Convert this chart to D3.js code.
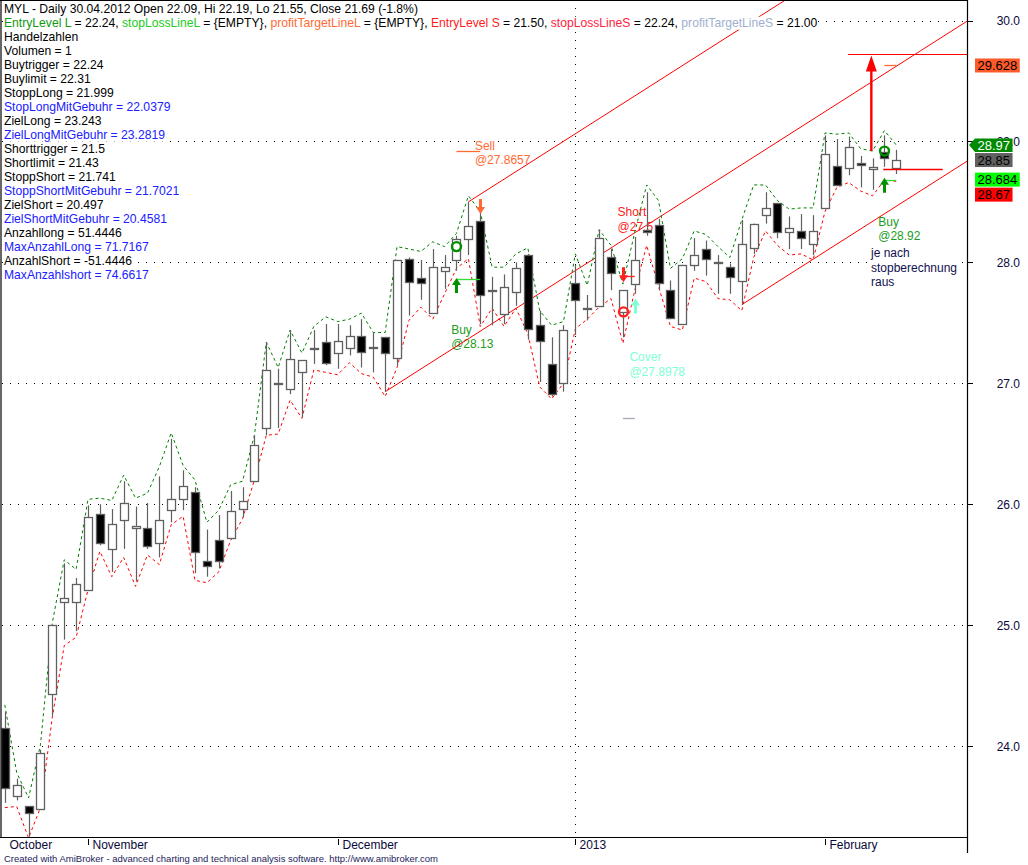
<!DOCTYPE html>
<html>
<head>
<meta charset="utf-8">
<script src="https://cdn.jsdelivr.net/npm/d3@7"></script>
<style>
  body { margin: 0; background: #fff; }
  svg { display: block; font-family: "Liberation Sans", Arial, sans-serif; }
</style>
</head>
<body>
<div id="chart"></div>
<script>
// MYL daily candles, Oct 2012 - Feb 2013

const dates = [
  "2012-10-19","2012-10-22","2012-10-23","2012-10-24","2012-10-25","2012-10-26","2012-10-31",
  "2012-11-01","2012-11-02","2012-11-05","2012-11-06","2012-11-07","2012-11-08","2012-11-09",
  "2012-11-12","2012-11-13","2012-11-14","2012-11-15","2012-11-16","2012-11-19","2012-11-20",
  "2012-11-21","2012-11-23","2012-11-26","2012-11-27","2012-11-28","2012-11-29","2012-11-30",
  "2012-12-03","2012-12-04","2012-12-05","2012-12-06","2012-12-07","2012-12-10","2012-12-11",
  "2012-12-12","2012-12-13","2012-12-14","2012-12-17","2012-12-18","2012-12-19","2012-12-20",
  "2012-12-21","2012-12-24","2012-12-26","2012-12-27","2012-12-28","2012-12-31",
  "2013-01-02","2013-01-03","2013-01-04","2013-01-07","2013-01-08","2013-01-09","2013-01-10",
  "2013-01-11","2013-01-14","2013-01-15","2013-01-16","2013-01-17","2013-01-18","2013-01-22",
  "2013-01-23","2013-01-24","2013-01-25","2013-01-28","2013-01-29","2013-01-30","2013-01-31",
  "2013-02-01","2013-02-04","2013-02-05","2013-02-06","2013-02-07","2013-02-08","2013-02-11"
];

const opens = [
  24.15, 23.59, 23.50, 23.48, 24.43, 25.19, 25.19, 25.29, 25.92, 25.63,
  25.87, 25.80, 25.80, 25.68, 25.95, 26.04, 26.10, 25.53, 25.70, 25.72,
  25.96, 26.19, 26.63, 27.00, 26.95, 27.09, 27.29, 27.34, 27.25, 27.29,
  27.39, 27.30, 27.38, 27.21, 28.03, 27.87, 27.58, 27.93, 28.02, 28.19,
  28.34, 27.77, 27.58, 27.75, 28.06, 27.48, 27.16, 27.00, 27.83, 27.62,
  27.64, 28.04, 27.59, 27.82, 28.27, 28.31, 27.77, 27.49, 27.98, 28.11,
  28.00, 27.96, 27.84, 28.12, 28.39, 28.49, 28.25, 28.26, 28.15, 28.45,
  28.80, 28.78, 28.82, 28.77, 28.91, 28.78
];
const highs = [
  24.28, 23.73, 23.50, 23.97, 25.00, 25.51, 25.39, 25.99, 26.00, 25.96,
  26.19, 25.98, 26.01, 26.23, 26.54, 26.28, 26.14, 25.79, 25.91, 26.11,
  26.14, 26.57, 27.34, 27.12, 27.44, 27.19, 27.44, 27.49, 27.49, 27.48,
  27.53, 27.42, 27.38, 28.02, 28.04, 28.02, 28.11, 28.06, 28.22, 28.50,
  28.42, 27.88, 27.90, 28.00, 28.07, 27.60, 27.38, 27.48, 27.98, 27.73,
  28.27, 28.11, 27.77, 28.21, 28.58, 28.36, 27.85, 27.98, 28.20, 28.18,
  28.06, 27.99, 28.35, 28.32, 28.58, 28.49, 28.38, 28.40, 28.39, 29.05,
  29.02, 29.04, 28.88, 28.86, 29.05, 28.93
];
const lows = [
  23.53, 23.55, 23.25, 23.47, 24.25, 24.88, 24.95, 25.29, 25.66, 25.44,
  25.63, 25.36, 25.63, 25.56, 25.85, 25.95, 25.43, 25.40, 25.47, 25.71,
  25.89, 26.19, 26.57, 26.63, 26.91, 26.72, 27.16, 27.15, 27.12, 27.23,
  27.13, 27.09, 26.93, 27.15, 27.56, 27.69, 27.58, 27.78, 27.93, 28.06,
  27.49, 27.48, 27.49, 27.64, 27.36, 27.01, 26.89, 26.93, 27.40, 27.52,
  27.63, 27.77, 27.38, 27.74, 28.22, 27.77, 27.53, 27.49, 27.93, 27.89,
  27.74, 27.74, 27.65, 28.07, 28.32, 28.20, 28.11, 28.11, 28.06, 28.45,
  28.64, 28.72, 28.62, 28.60, 28.79, 28.73
];
const closes = [
  23.65, 23.68, 23.44, 23.94, 25.00, 25.22, 25.34, 25.89, 25.68, 25.84,
  26.01, 25.82, 25.65, 25.87, 26.04, 26.15, 25.60, 25.49, 25.53, 25.94,
  26.03, 26.49, 27.11, 27.00, 27.20, 27.19, 27.29, 27.17, 27.35, 27.39,
  27.26, 27.30, 27.25, 28.02, 27.84, 27.83, 27.96, 27.96, 28.19, 28.30,
  27.73, 27.77, 27.80, 27.95, 27.45, 27.35, 26.91, 27.44, 27.69, 27.62,
  28.20, 27.91, 27.77, 28.02, 28.25, 27.83, 27.54, 27.98, 28.06, 28.03,
  28.00, 27.88, 28.15, 28.32, 28.45, 28.25, 28.28, 28.20, 28.26, 28.90,
  28.64, 28.95, 28.80, 28.79, 28.86, 28.85
];

// dashed envelope lines (green above, red below)
const upperBand = [
  24.34, 23.78, 23.57, 24.01, 25.02, 25.54, 25.46, 26.04, 26.05, 26.03,
  26.24, 26.05, 26.09, 26.31, 26.59, 26.32, 26.20, 25.85, 25.95, 26.16,
  26.19, 26.57, 27.34, 27.13, 27.44, 27.25, 27.47, 27.55, 27.51, 27.53,
  27.58, 27.42, 27.42, 28.13, 28.11, 28.09, 28.17, 28.13, 28.24, 28.55,
  28.42, 27.96, 27.96, 28.07, 28.12, 27.60, 27.48, 27.51, 28.07, 27.81,
  28.27, 28.14, 27.82, 28.25, 28.64, 28.51, 27.95, 28.03, 28.26, 28.23,
  28.13, 28.04, 28.35, 28.64, 28.64, 28.51, 28.44, 28.45, 28.45, 29.07,
  29.06, 29.07, 28.94, 28.92, 29.09, 28.97
];
const lowerBand = [
  23.49, 23.50, 23.24, 23.49, 24.24, 24.83, 24.90, 25.29, 25.61, 25.40,
  25.56, 25.32, 25.58, 25.50, 25.83, 25.90, 25.37, 25.35, 25.44, 25.70,
  25.88, 26.20, 26.57, 26.58, 26.86, 26.71, 27.11, 27.09, 27.07, 27.17,
  27.08, 27.05, 26.89, 27.13, 27.52, 27.63, 27.53, 27.74, 27.95, 28.03,
  27.47, 27.62, 27.47, 27.62, 27.41, 26.97, 26.87, 27.00, 27.45, 27.53,
  27.63, 27.70, 27.33, 27.77, 28.14, 27.80, 27.47, 27.44, 27.87, 27.84,
  27.70, 27.69, 27.60, 28.04, 28.26, 28.14, 28.06, 28.07, 28.02, 28.42,
  28.62, 28.66, 28.59, 28.55, 28.68, 28.67
];

const priceTicks = [24, 25, 26, 27, 28, 29, 30];

// parallel trend channel: start bar, start price, rise per bar
const channelStartBars = [39, 32, 62];
const channelStartPrices = [28.50, 26.93, 27.65];
const channelSlope = 0.0626;

// trade levels: short horizontal segments
const levelFrom = [38, 38, 52, 52, 74, 74];
const levelTo = [40, 40, 53, 53, 75, 75];
const levelPrices = [27.86, 28.92, 27.89, 26.71, 28.684, 29.628];
const levelColors = ["#33dd33", "#ff6a33", "#ff2020", "#a8aab8", "#33dd33", "#ff6a33"];

// signal shapes
const signalBars = [38, 38, 40, 52, 52, 53, 74, 74];
const signalShapes = ["up", "circle", "down", "down", "circle", "up", "up", "circle"];
const signalPrices = [27.87, 28.13, 28.40, 27.835, 27.59, 27.70, 28.70, 28.92];
const signalColors = ["#009000", "#009000", "#ff6a33", "#ff2020", "#ff2020", "#7fffd4", "#009000", "#009000"];

// trade texts
const noteBars = [39.55, 37.55, 51.55, 52.55, 73.48, 72.87];
const notePrices = [28.93, 27.41, 28.38, 27.18, 28.30, 28.04];
const noteLines = [
  ["Sell", "@27.8657"],
  ["Buy", "@28.13"],
  ["Short", "@27.5"],
  ["Cover", "@27.8978"],
  ["Buy", "@28.92"],
  ["je nach", "stopberechnung", "raus"]
];
const noteColors = ["#ff6a33", "#1c9c1c", "#ff2020", "#7fffd4", "#1c9c1c", "#101050"];

// hand drawn target arrow and lines
const drawArrowBar = 72.9;
const drawArrowFrom = 28.92;
const drawArrowTo = 29.71;
const drawLineFrom = [70.93, 73.9];
const drawLineTo = [null, 78.9];
const drawLinePrices = [29.72, 28.77];

// right side value labels
const valueLabels = [
  { value: upperBand[upperBand.length - 1], fill: "#008a00", text: "#ffffff", pointer: true },
  { value: closes[closes.length - 1], fill: "#606060", text: "#000000" },
  { value: levelPrices[4], fill: "#00ff00", text: "#000000" },
  { value: lowerBand[lowerBand.length - 1], fill: "#ff0000", text: "#000000" },
  { value: levelPrices[5], fill: "#ff5a2a", text: "#000000" }
];

const titleText = "MYL - Daily 30.04.2012 Open 22.09, Hi 22.19, Lo 21.55, Close 21.69 (-1.8%)";
const paramNames = ["EntryLevel L", "stopLossLineL", "profitTargetLineL", "EntryLevel S", "stopLossLineS", "profitTargetLineS"];
const paramValues = ["22.24", "{EMPTY}", "{EMPTY}", "21.50", "22.24", "21.00"];
const paramColors = ["#119911", "#22cc22", "#ff6a33", "#ff1a1a", "#ff2040", "#a0b0d0"];

const tradeNames = ["Volumen", "Buytrigger", "Buylimit", "StoppLong", "StopLongMitGebuhr", "ZielLong",
  "ZielLongMitGebuhr", "Shorttrigger", "Shortlimit", "StoppShort", "StoppShortMitGebuhr", "ZielShort",
  "ZielShortMitGebuhr", "Anzahllong", "MaxAnzahlLong", "AnzahlShort", "MaxAnzahlshort"];
const tradeValues = ["1", "22.24", "22.31", "21.999", "22.0379", "23.243", "23.2819", "21.5", "21.43",
  "21.741", "21.7021", "20.497", "20.4581", "51.4446", "71.7167", "-51.4446", "74.6617"];
const tradeBlue = [false, false, false, false, true, false, true, false, false, false, true, false, true, false, true, false, true];

const footerText = "Created with AmiBroker - advanced charting and technical analysis software. http://www.amibroker.com";

//------------------------------------------------------------------
const width = 1028, height = 865;
const plotRight = 967, plotBottom = 837;

const svg = d3.select("#chart").append("svg")
  .attr("width", width)
  .attr("height", height);

const x = d3.scaleLinear().domain([0, dates.length - 1]).range([4.8, 896.3]);
const y = d3.scaleLinear().domain([24, 30]).range([746, 20.5]);
const lastBar = x.invert(plotRight);

svg.append("clipPath").attr("id", "plot-clip")
  .append("rect").attr("x", 1).attr("y", 0).attr("width", plotRight - 1).attr("height", plotBottom);

const plot = svg.append("g").attr("clip-path", "url(#plot-clip)");

// dotted price grid
plot.selectAll(".grid")
  .data(priceTicks)
  .enter()
  .append("line")
    .attr("x1", 2).attr("x2", plotRight)
    .attr("y1", d => Math.round(y(d)) + 0.5)
    .attr("y2", d => Math.round(y(d)) + 0.5)
    .attr("stroke", "#000")
    .attr("stroke-dasharray", "1,7");

// month ticks from the dates
const parse = d3.timeParse("%Y-%m-%d");
const monthStarts = [];
dates.forEach((d, i) => {
  const dt = parse(d);
  if (i === 0 || dt.getMonth() !== parse(dates[i - 1]).getMonth()) {
    monthStarts.push({ i: i, label: dt.getMonth() === 0 ? d3.timeFormat("%Y")(dt) : d3.timeFormat("%B")(dt), year: dt.getMonth() === 0 });
  }
});

// year separator
monthStarts.filter(m => m.year).forEach(m => {
  plot.append("line")
    .attr("x1", Math.round(x(m.i)) + 0.5).attr("x2", Math.round(x(m.i)) + 0.5)
    .attr("y1", 0).attr("y2", plotBottom)
    .attr("stroke", "#000")
    .attr("stroke-dasharray", "1,7");
});

// trade texts with white background
const notes = plot.append("g");
noteLines.forEach((lines, n) => {
  lines.forEach((t, k) => {
    const tx = notes.append("text")
      .attr("x", x(noteBars[n]))
      .attr("y", y(notePrices[n]) + k * 14.3)
      .attr("font-size", 12)
      .attr("fill", noteColors[n])
      .text(t);
    const b = tx.node().getBBox();
    notes.insert("rect", "text")
      .attr("x", b.x).attr("y", b.y + 1).attr("width", b.width).attr("height", b.height - 2)
      .attr("fill", "#fff");
  });
});

// channel lines
plot.selectAll(".channel")
  .data(channelStartBars)
  .enter()
  .append("line")
    .attr("x1", d => x(d))
    .attr("y1", (d, i) => y(channelStartPrices[i]))
    .attr("x2", x(lastBar))
    .attr("y2", (d, i) => y(channelStartPrices[i] + (lastBar - d) * channelSlope))
    .attr("stroke", "#ff0000")
    .attr("stroke-width", 1);

// envelopes
const bandLine = d3.line().x((d, i) => x(i)).y(d => y(d));
plot.append("path")
  .attr("d", bandLine(upperBand))
  .attr("fill", "none")
  .attr("stroke", "#008000")
  .attr("stroke-dasharray", "3,3");
plot.append("path")
  .attr("d", bandLine(lowerBand))
  .attr("fill", "none")
  .attr("stroke", "#ff0000")
  .attr("stroke-dasharray", "3,3");

// candles
const candles = plot.selectAll(".candle")
  .data(dates)
  .enter()
  .append("g");

candles.append("line")
  .attr("x1", (d, i) => Math.round(x(i)) + 0.5)
  .attr("x2", (d, i) => Math.round(x(i)) + 0.5)
  .attr("y1", (d, i) => y(highs[i]))
  .attr("y2", (d, i) => y(lows[i]))
  .attr("stroke", "#606060")
  .attr("stroke-width", 1.2);

candles.append("rect")
  .attr("x", (d, i) => Math.round(x(i)) - 3.5)
  .attr("width", 8)
  .attr("y", (d, i) => Math.round(Math.min(y(opens[i]), y(closes[i]))) + 0.5)
  .attr("height", (d, i) => Math.max(Math.round(Math.abs(y(opens[i]) - y(closes[i]))), 1))
  .attr("fill", (d, i) => closes[i] < opens[i] ? "#000" : "#fff")
  .attr("stroke", "#606060")
  .attr("stroke-width", 1.3);

// trade level segments
plot.selectAll(".level")
  .data(levelPrices)
  .enter()
  .append("line")
    .attr("x1", (d, i) => x(levelFrom[i]))
    .attr("x2", (d, i) => x(levelTo[i]))
    .attr("y1", d => Math.round(y(d)) + 0.5)
    .attr("y2", d => Math.round(y(d)) + 0.5)
    .attr("stroke", (d, i) => levelColors[i])
    .attr("stroke-width", 1.3);

// signal shapes
function arrowPath(cx, tip, dir) {
  // dir 1: up arrow (tip on top), -1: down arrow
  const h = 7 * dir, s = 15 * dir;
  return `M${cx},${tip} L${cx + 4.5},${tip + h} L${cx + 1.5},${tip + h} L${cx + 1.5},${tip + s}` +
    ` L${cx - 1.5},${tip + s} L${cx - 1.5},${tip + h} L${cx - 4.5},${tip + h} Z`;
}

signalBars.forEach((b, i) => {
  const cx = Math.round(x(b)) + 0.5;
  if (signalShapes[i] === "circle") {
    plot.append("circle")
      .attr("cx", cx).attr("cy", y(signalPrices[i]))
      .attr("r", 4.5)
      .attr("fill", "none")
      .attr("stroke", signalColors[i])
      .attr("stroke-width", 2.4);
  } else {
    plot.append("path")
      .attr("d", arrowPath(cx, y(signalPrices[i]), signalShapes[i] === "up" ? 1 : -1))
      .attr("fill", signalColors[i]);
  }
});

// hand drawn lines
drawLinePrices.forEach((p, i) => {
  plot.append("line")
    .attr("x1", x(drawLineFrom[i]))
    .attr("x2", drawLineTo[i] === null ? plotRight : x(drawLineTo[i]))
    .attr("y1", Math.round(y(p)) + 0.5)
    .attr("y2", Math.round(y(p)) + 0.5)
    .attr("stroke", "#ff0000")
    .attr("stroke-width", i === 0 ? 1.2 : 1.6);
});

// hand drawn target arrow
const ax = x(drawArrowBar), aBase = y(drawArrowFrom), aTip = y(drawArrowTo);
plot.append("path")
  .attr("d", `M${ax},${aTip} L${ax + 5.5},${aTip + 16} L${ax + 1.2},${aTip + 16} L${ax + 1.2},${aBase}` +
    ` L${ax - 1.2},${aBase} L${ax - 1.2},${aTip + 16} L${ax - 5.5},${aTip + 16} Z`)
  .attr("fill", "#ff0000");

// frame
const frame = svg.append("g").attr("stroke", "#000").attr("stroke-width", 1.2);
frame.append("line").attr("x1", 1).attr("x2", 1).attr("y1", 0).attr("y2", plotBottom);
frame.append("line").attr("x1", 0).attr("x2", plotRight).attr("y1", 0.5).attr("y2", 0.5);
frame.append("line").attr("x1", 0).attr("x2", plotRight).attr("y1", plotBottom + 0.5).attr("y2", plotBottom + 0.5);
frame.append("line").attr("x1", plotRight + 0.5).attr("x2", plotRight + 0.5).attr("y1", 0).attr("y2", 853);

// y axis
const yAxis = svg.append("g");
yAxis.selectAll("line")
  .data(priceTicks)
  .enter()
  .append("line")
    .attr("x1", plotRight).attr("x2", plotRight + 6)
    .attr("y1", d => Math.round(y(d)) + 0.5)
    .attr("y2", d => Math.round(y(d)) + 0.5)
    .attr("stroke", "#000");
yAxis.selectAll("text")
  .data(priceTicks)
  .enter()
  .append("text")
    .attr("x", 1020)
    .attr("y", d => y(d) + 4.5)
    .attr("text-anchor", "end")
    .attr("font-size", 12)
    .attr("fill", "#0a0a3a")
    .text(d => d3.format(".1f")(d));

// x axis months
const xAxis = svg.append("g");
monthStarts.forEach(m => {
  const tx = Math.round(x(m.i)) + 0.5;
  if (m.i > 0) {
    xAxis.append("line")
      .attr("x1", tx).attr("x2", tx)
      .attr("y1", plotBottom + 2).attr("y2", plotBottom + 8)
      .attr("stroke", "#000");
  }
  xAxis.append("text")
    .attr("x", tx + 4)
    .attr("y", 849)
    .attr("font-size", 12)
    .attr("fill", "#0a0a3a")
    .text(m.label);
});

// value labels on the right
const fmt = d3.format(".5~g");
const labels = valueLabels.map(d => Object.assign({}, d, { cy: y(d.value) })).sort((a, b) => a.cy - b.cy);
for (let k = 1; k < labels.length; k++) {
  if (labels[k].cy < labels[k - 1].cy + 15) labels[k].cy = labels[k - 1].cy + 15;
}
labels.forEach(d => {
  const g = svg.append("g");
  const t = g.append("text")
    .attr("x", 977.5)
    .attr("y", d.cy + 4.7)
    .attr("font-size", 13)
    .attr("fill", d.text)
    .text(fmt(d.value));
  const w = t.node().getComputedTextLength() + 5;
  if (d.pointer) {
    g.insert("path", "text")
      .attr("d", `M969,${d.cy} L975,${d.cy - 6.5} L${975 + w},${d.cy - 6.5} L${975 + w},${d.cy + 7} L975,${d.cy + 7} Z`)
      .attr("fill", d.fill);
  } else {
    g.insert("rect", "text")
      .attr("x", 975).attr("y", d.cy - 7)
      .attr("width", w).attr("height", 14)
      .attr("fill", d.fill);
  }
});

// legend text on white background
const legend = svg.append("g").attr("font-size", 12.15);
function legendRow(row) {
  const t = legend.append("text").attr("x", 4).attr("y", 12.7 + row * 14);
  return t;
}
function backRow(t) {
  const b = t.node().getBBox();
  legend.insert("rect", "text")
    .attr("x", b.x).attr("y", b.y + 1).attr("width", b.width).attr("height", b.height - 1)
    .attr("fill", "#fff");
}

let row0 = legendRow(0).attr("fill", "#000").text(titleText);
backRow(row0);

let row1 = legendRow(1);
paramNames.forEach((p, i) => {
  row1.append("tspan").attr("fill", paramColors[i]).text(p);
  row1.append("tspan").attr("fill", "#000").text(" = " + paramValues[i] + (i < paramNames.length - 1 ? ", " : ""));
});
backRow(row1);

let row2 = legendRow(2).attr("fill", "#000").text("Handelzahlen");
backRow(row2);

tradeNames.forEach((n, i) => {
  const r = legendRow(3 + i)
    .attr("fill", tradeBlue[i] ? "#2020ff" : "#000")
    .text(n + " = " + tradeValues[i]);
  backRow(r);
});

// footer
svg.append("text")
  .attr("x", 4)
  .attr("y", 861.5)
  .attr("font-size", 9.5)
  .attr("fill", "#1c1c5c")
  .text(footerText);
</script>
</body>
</html>
